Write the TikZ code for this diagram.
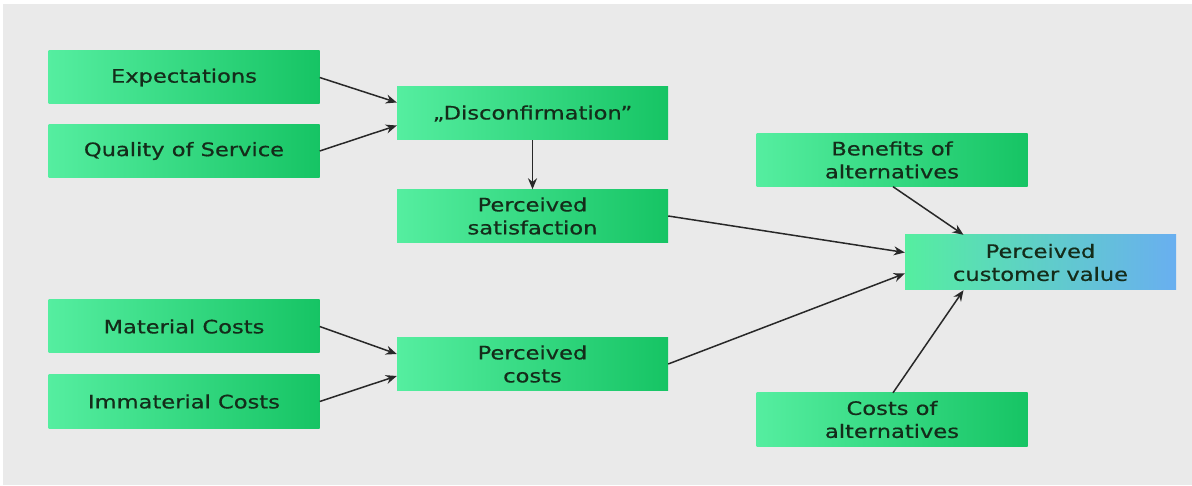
\documentclass[tikz,border=0pt]{standalone}
\usepackage{fontspec}
\setmainfont[FakeStretch=1.22,FakeBold=0.6]{DejaVu Sans}
\usetikzlibrary{calc,arrows.meta}
\definecolor{bggray}{RGB}{234,234,234}
\definecolor{gLight}{RGB}{85,238,160}
\definecolor{gDark}{RGB}{22,196,100}
\definecolor{bBlue}{RGB}{105,175,240}
\definecolor{txt}{RGB}{20,44,26}
\definecolor{lin}{RGB}{40,40,40}
\tikzset{
  box/.style={rectangle, left color=gLight, right color=gDark, draw=none,
    minimum width=271pt, minimum height=53pt, inner sep=2pt, align=center,
    text=txt, font=\fontsize{18.5}{23}\selectfont},
  valbox/.style={box, left color=gLight, right color=bBlue},
  conn/.style={draw=lin, line width=1.5pt, -{Stealth[length=11pt,width=9pt]}}
}
\begin{document}
\begin{tikzpicture}[x=1pt,y=-1pt]
\useasboundingbox (0,0) rectangle (1192,486);
\fill[white] (0,0) rectangle (1192,486);
\fill[bggray] (3,4) rectangle (1192,485);
\node[box] (exp) at (184,77.5) {Expectations};
\node[box] (qos) at (184,151) {Quality of Service};
\node[box] (dis) at (532.5,113.5) {„Disconfirmation”};
\node[box] (sat) at (532.5,216) {Perceived\\satisfaction};
\node[box] (ben) at (892,160) {Benefits of\\alternatives};
\node[valbox, minimum height=55pt] (val) at (1040.5,262.5) {Perceived\\customer value};
\node[box] (mat) at (184,326.5) {Material Costs};
\node[box] (imm) at (184,401.5) {Immaterial Costs};
\node[box] (cost) at (532.5,364) {Perceived\\costs};
\node[box] (calt) at (892,419.5) {Costs of\\alternatives};
\draw[conn] (exp.east) -- ($(dis.west)+(0,-11)$);
\draw[conn] (qos.east) -- ($(dis.west)+(0,12)$);
\draw[conn] (dis.south) -- (sat.north);
\draw[conn] (mat.east) -- ($(cost.west)+(0,-10)$);
\draw[conn] (imm.east) -- ($(cost.west)+(0,12)$);
\draw[conn] (sat.east) -- ($(val.west)+(0,-10)$);
\draw[conn] (cost.east) -- ($(val.west)+(0,11)$);
\draw[conn] ($(ben.south)+(1,0)$) -- ($(val.north)+(-77,0)$);
\draw[conn] ($(calt.north)+(1,0)$) -- ($(val.south)+(-77,0)$);
\end{tikzpicture}
\end{document}
